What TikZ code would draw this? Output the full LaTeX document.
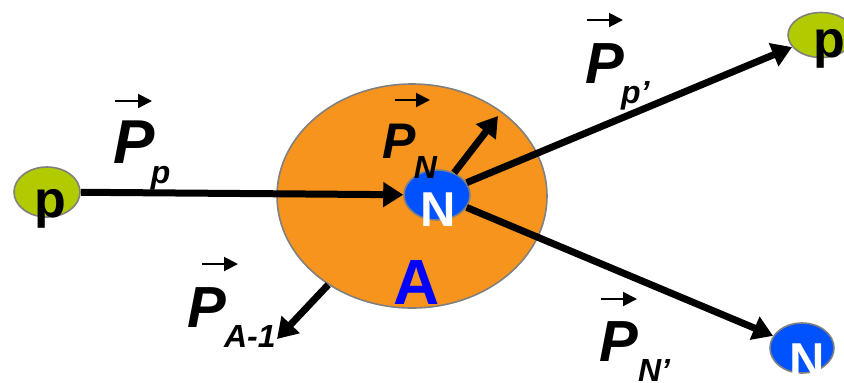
\documentclass[tikz,border=0pt]{standalone}
\usepackage{fontspec}
\setmainfont{Liberation Sans}
\usepackage{tikz}
\usetikzlibrary{arrows.meta,shapes.geometric}
\definecolor{nucorange}{RGB}{247,148,30}
\definecolor{protgreen}{RGB}{178,203,0}
\definecolor{neutblue}{RGB}{0,82,255}
\newcommand{\mom}[2][1pt]{P\kern-#1\raisebox{-10pt}{\fontsize{16}{16}\selectfont #2}}

\begin{document}
\begin{tikzpicture}[x=0.5pt, y=-0.5pt,
  nucleus/.style={ellipse, draw=gray, line width=0.8pt, fill=nucorange, minimum width=135pt, minimum height=112pt},
  proton/.style={ellipse, draw=gray, line width=0.8pt, fill=protgreen, inner sep=0, minimum width=33pt, minimum height=25pt},
  neutron/.style={ellipse, draw=gray, line width=0.8pt, fill=neutblue, inner sep=0, minimum width=33pt, minimum height=25pt},
  ptext/.style={anchor=base, inner sep=0, text=black, font=\bfseries\fontsize{26}{26}\selectfont},
  ntext/.style={anchor=base, inner sep=0, text=white, font=\bfseries\fontsize{24.5}{24.5}\selectfont},
  atext/.style={anchor=base, inner sep=0, text=blue, font=\bfseries\fontsize{32}{32}\selectfont},
  mom/.style={inner sep=0, anchor=base west, font=\bfseries\itshape\fontsize{29}{29}\selectfont},
  momarrow/.style={-{Triangle[length=10pt,width=12pt]}, line width=3.5pt},
  vecarrow/.style={-{Triangle[length=7pt,width=7pt]}, line width=1pt}
]
\useasboundingbox (0,0) rectangle (844,382);

\node[nucleus] (A) at (412,196) {};
\node[atext] (Albl) at ([shift={(5,108)}]A.center) {A};
\node[neutron] (N) at (437,195) {};
\node[ntext] (Nlbl) at ([shift={(1,31)}]N.center) {N};
\node[proton] (p) at (47,192) {};
\node[ptext] (plbl) at ([shift={(3,25)}]p.center) {p};
\node[proton, minimum height=22.5pt] (p2) at (821,35) {};
\node[ptext] (p2lbl) at ([shift={(8,22)}]p2.center) {p};
\node[neutron, minimum width=32pt] (N2) at (802,348) {};
\node[ntext] (N2lbl) at ([shift={(5,29)}]N2.center) {N};

\coordinate (tipN) at (498,116);
\coordinate (tipA) at (277,339);

\draw[momarrow] (p) -- (N);
\draw[momarrow] (N) -- (tipN);
\draw[momarrow] (N) -- (p2);
\draw[momarrow] (N) -- (N2);
\draw[momarrow] (A) -- (tipA);

\node[mom, font=\bfseries\itshape\fontsize{31}{31}\selectfont] (Pp) at (113,163) {\mom[2pt]{p}};
\node[mom, font=\bfseries\itshape\fontsize{25}{25}\selectfont] (PN) at (382,158) {\mom{N}};
\node[mom] (Ppp) at (585,83) {\mom[1.5pt]{p'}};
\node[mom] (PNN) at (599,361) {\mom[0pt]{N'}};
\node[mom] (PA) at (187,327) {\mom{A-1}};

\draw[vecarrow] ([shift={(2,-62)}]Pp.base west) -- ++(37,0);
\draw[vecarrow] ([shift={(13,-58)}]PN.base west) -- ++(35,0);
\draw[vecarrow] ([shift={(2,-63)}]Ppp.base west) -- ++(36,0);
\draw[vecarrow] ([shift={(2,-62)}]PNN.base west) -- ++(36,0);
\draw[vecarrow] ([shift={(15,-63)}]PA.base west) -- ++(36,0);
\end{tikzpicture}
\end{document}
